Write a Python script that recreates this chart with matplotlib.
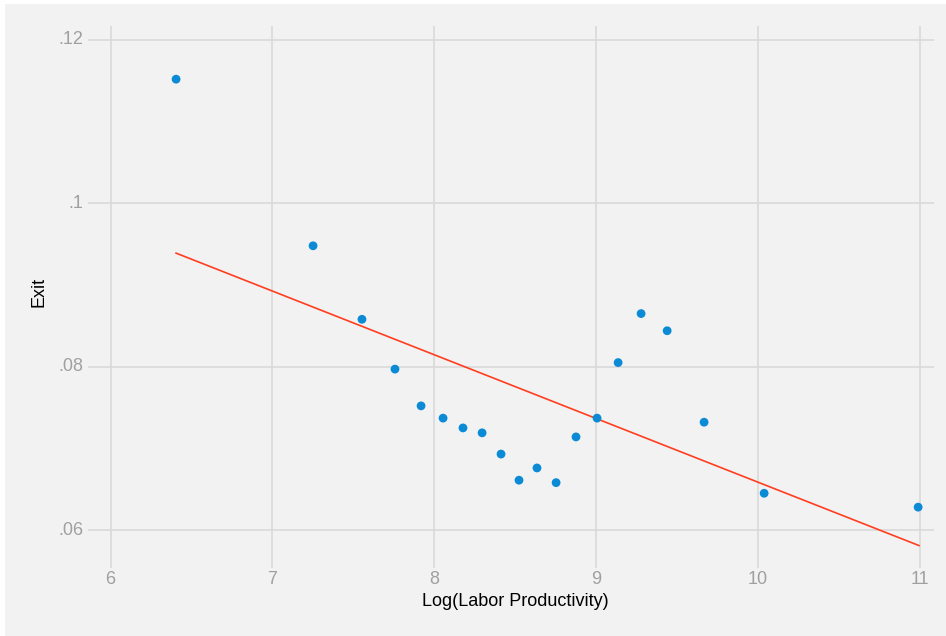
import matplotlib.pyplot as plt
from matplotlib.patches import Rectangle

# binned means
bin_x = [6.405, 7.251, 7.553, 7.757, 7.918, 8.054, 8.177, 8.295, 8.412, 8.523,
         8.634, 8.752, 8.875, 9.005, 9.135, 9.277, 9.438, 9.666, 10.037, 10.988]
bin_y = [0.1152, 0.0948, 0.0858, 0.0797, 0.0752, 0.0737, 0.0725, 0.0719, 0.0693, 0.0661,
         0.0676, 0.0658, 0.0714, 0.0737, 0.0805, 0.0865, 0.0844, 0.0732, 0.0645, 0.0628]

# linear fit endpoints
fit_x = [6.405, 10.993]
fit_y = [0.0939, 0.0581]

x_ticks = [6, 7, 8, 9, 10, 11]
y_ticks = [0.06, 0.08, 0.10, 0.12]
y_tick_labels = ['.06', '.08', '.1', '.12']

font = ['Liberation Sans Narrow', 'Liberation Sans', 'DejaVu Sans']
bg = '#f2f2f2'
grid_c = '#d9d9d9'

fig = plt.figure(figsize=(9.46, 6.36), dpi=100)
fig.patch.set_facecolor('white')
fig.patches.append(Rectangle((5 / 946, 0), 1, 1 - 4 / 636, transform=fig.transFigure,
                             facecolor=bg, edgecolor='none', zorder=-10))

ax = fig.add_axes([88 / 946, 1 - 568 / 636, (934 - 88) / 946, (568 - 26) / 636])
ax.set_facecolor(bg)
for s in ax.spines.values():
    s.set_visible(False)

ax.set_xlim(5.861, 11.086)
ax.set_ylim(0.05535, 0.12171)

for xv in x_ticks:
    ax.axvline(xv, color=grid_c, lw=1.2, zorder=1)
for yv in y_ticks:
    ax.axhline(yv, color=grid_c, lw=1.2, zorder=1)

ax.scatter(bin_x, bin_y, s=40, color='#0b8bd6', edgecolors='none', zorder=3)
ax.plot(fit_x, fit_y, color='#ff3d1f', lw=1.2, zorder=2)

ax.set_xticks([])
ax.set_yticks([])

# tick labels placed outside the plot region
for xv in x_ticks:
    ax.annotate(str(xv), xy=(xv, 0), xycoords=('data', 'axes fraction'),
                xytext=(0, -12), textcoords='offset pixels', ha='center', va='center',
                fontsize=13, color='#a0a0a0', family=font)
for yv, lab in zip(y_ticks, y_tick_labels):
    ax.annotate(lab, xy=(0, yv), xycoords=('axes fraction', 'data'),
                xytext=(-5, 0), textcoords='offset pixels', ha='right', va='center',
                fontsize=13, color='#a0a0a0', family=font)

fig.text(515 / 946, 1 - 601 / 636, 'Log(Labor Productivity)', ha='center', va='center',
         fontsize=13, color='black', family=font)
fig.text(39 / 946, 1 - 292 / 636, 'Exit', ha='center', va='center', rotation=90,
         fontsize=13, color='black', family=font)

fig.savefig('out.png', dpi=100, facecolor=fig.get_facecolor())
